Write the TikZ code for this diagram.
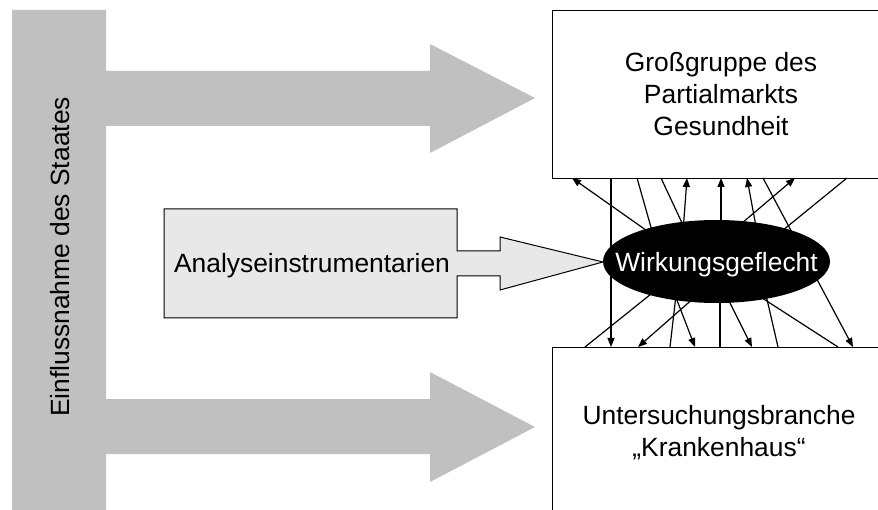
\documentclass[tikz,border=0pt]{standalone}
\usepackage{fontspec}
\setmainfont{Liberation Sans}
\usetikzlibrary{arrows.meta,shapes.geometric}
\definecolor{arrgrey}{RGB}{192,192,192}
\definecolor{boxgrey}{RGB}{232,232,232}
\begin{document}
\begin{tikzpicture}[x=1pt,y=-1pt,
  conn/.style={line width=1.2pt},
  arr/.style={conn,-{Triangle[length=9pt,width=7pt]}},
  lbl/.style={font=\fontsize{26.4}{32}\selectfont, align=center, inner sep=0pt},
  bigbox/.style={draw, line width=1.3pt, fill=white, inner sep=0pt}]
\useasboundingbox (0,0) rectangle (878,510);
\clip (0,0) rectangle (878,510);
% grey bar with two big arrows
\fill[arrgrey] (12,10) -- (106,10) -- (106,71) -- (430,71) -- (430,44) -- (535,98)
  -- (430,153) -- (430,126) -- (106,126) -- (106,399) -- (430,399) -- (430,372)
  -- (535,427) -- (430,482) -- (430,454) -- (106,454) -- (106,520) -- (12,520) -- cycle;
\node[lbl, rotate=90, anchor=base] (staat) at (69,257) {Einflussnahme des Staates};
% boxes
\node[bigbox, minimum width=338pt, minimum height=168pt, anchor=north west] (top) at (552,10) {};
\node[lbl] (toptext) at (721,94) {Großgruppe des\\Partialmarkts\\Gesundheit};
\node[bigbox, minimum width=338pt, minimum height=172pt, anchor=north west] (bot) at (552,347) {};
\node[lbl] (bottext) at (719,433) {Untersuchungsbranche\\„Krankenhaus“};
% analysis box with arrow
\draw[line width=1pt, fill=boxgrey] (164,209) -- (457,209) -- (457,251) -- (500,251) -- (500,237)
  -- (603,262) -- (500,290) -- (500,276) -- (457,276) -- (457,318) -- (164,318) -- cycle;
\node[lbl, anchor=base] (ana) at (312,273) {Analyseinstrumentarien};
% connector end points
\coordinate (t1) at (572,178); \coordinate (e1) at (660,240);
\coordinate (t2) at (611,178); \coordinate (b2) at (611,347);
\coordinate (t3) at (637,178); \coordinate (e3) at (656,245);
\coordinate (t4) at (661,178); \coordinate (e4) at (690,240);
\coordinate (t5) at (687,178); \coordinate (e5) at (683,232);
\coordinate (t6) at (721,178); \coordinate (e6) at (721,228);
\coordinate (t7) at (747,178); \coordinate (e7) at (757,232);
\coordinate (t8) at (763,178); \coordinate (b8) at (853,347);
\coordinate (t9) at (795,178); \coordinate (e9) at (735,229);
\coordinate (t10) at (847,178); \coordinate (e10) at (777,235);
\coordinate (b1) at (585,347); \coordinate (f1) at (656,290);
\coordinate (b3) at (638,347); \coordinate (f3) at (695,297);
\coordinate (b4) at (670,347); \coordinate (f4) at (676,295);
\coordinate (b5) at (695,347); \coordinate (f5) at (675,295);
\coordinate (b6) at (720,347); \coordinate (f6) at (720,300);
\coordinate (b7) at (752,347); \coordinate (f7) at (726,295);
\coordinate (b9) at (778,347); \coordinate (f9) at (766,295);
\coordinate (b10) at (838,347); \coordinate (f10) at (759,296);
% connectors
\draw[arr] (e1) -- (t1);
\draw[arr] (t2) -- (b2);
\draw[conn] (t3) -- (e3);
\draw[conn] (t4) -- (e4);
\draw[arr] (e5) -- (t5);
\draw[arr] (e6) -- (t6);
\draw[arr] (e7) -- (t7);
\draw[arr] (t8) -- (b8);
\draw[arr] (e9) -- (t9);
\draw[conn] (t10) -- (e10);
\draw[conn] (b1) -- (f1);
\draw[arr] (f3) -- (b3);
\draw[conn] (b4) -- (f4);
\draw[arr] (f5) -- (b5);
\draw[conn] (f6) -- (b6);
\draw[arr] (f7) -- (b7);
\draw[conn] (b9) -- (f9);
\draw[conn] (b10) -- (f10);
% ellipse
\node[ellipse, fill=black, minimum width=227pt, minimum height=83pt, inner sep=0pt] (wg) at (716.5,261.5) {};
\node[lbl, white, anchor=base] (wgtext) at (716.5,272) {Wirkungsgeflecht};
\end{tikzpicture}
\end{document}
